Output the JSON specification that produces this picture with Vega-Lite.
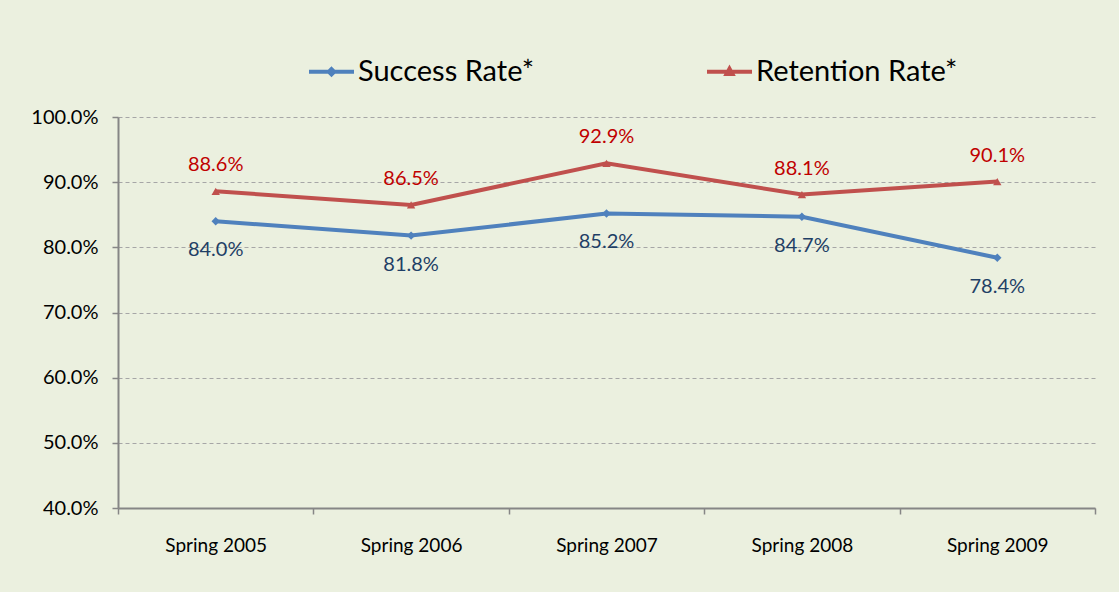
{
  "$schema": "https://vega.github.io/schema/vega-lite/v6.json",
  "width": 977,
  "height": 391,
  "autosize": {"type": "none"},
  "padding": {"left": 118, "top": 117, "right": 24, "bottom": 84},
  "background": "#EBF0DF",
  "config": {
    "view": {"stroke": null},
    "font": "Lato",
    "axis": {"labelFont": "Lato", "labelColor": "#000000", "domainColor": "#868686", "tickColor": "#868686", "domainWidth": 2}
  },
  "data": {
    "values": [
      {"term": "Spring 2005", "series": "Success Rate*", "value": 0.840},
      {"term": "Spring 2006", "series": "Success Rate*", "value": 0.818},
      {"term": "Spring 2007", "series": "Success Rate*", "value": 0.852},
      {"term": "Spring 2008", "series": "Success Rate*", "value": 0.847},
      {"term": "Spring 2009", "series": "Success Rate*", "value": 0.784},
      {"term": "Spring 2005", "series": "Retention Rate*", "value": 0.886},
      {"term": "Spring 2006", "series": "Retention Rate*", "value": 0.865},
      {"term": "Spring 2007", "series": "Retention Rate*", "value": 0.929},
      {"term": "Spring 2008", "series": "Retention Rate*", "value": 0.881},
      {"term": "Spring 2009", "series": "Retention Rate*", "value": 0.901}
    ]
  },
  "encoding": {
    "x": {
      "field": "term", "type": "nominal", "sort": null,
      "scale": {"paddingInner": 0, "paddingOuter": 0},
      "axis": {"title": null, "labelAngle": 0, "labelFontSize": 19, "labelPadding": 22, "tickBand": "extent", "tickSize": 6, "grid": false, "tickWidth": 1.5}
    },
    "y": {
      "field": "value", "type": "quantitative",
      "scale": {"domain": [0.4, 1.0]},
      "axis": {"title": null, "format": ".1%", "values": [0.4, 0.5, 0.6, 0.7, 0.8, 0.9, 1.0], "labelFontSize": 20, "labelPadding": 14, "tickSize": 6, "tickWidth": 1.5, "grid": true, "gridColor": "#A6A6A6", "gridDash": [4, 3], "gridWidth": 1}
    }
  },
  "layer": [
    {
      "mark": {"type": "line", "strokeWidth": 4},
      "encoding": {
        "color": {
          "field": "series", "type": "nominal",
          "scale": {"domain": ["Success Rate*", "Retention Rate*"], "range": ["#4F81BD", "#C0504D"]},
          "legend": {
            "title": null, "orient": "none", "direction": "horizontal",
            "legendX": 189, "legendY": -70,
            "labelFont": "Lato", "labelFontSize": 29, "labelColor": "#000000", "labelLimit": 400,
            "symbolSize": 2025, "symbolStrokeWidth": 4, "labelOffset": 2, "columnPadding": 164,
            "symbolType": "M-1,0L1,0M0,-0.12L0.12,0L0,0.12L-0.12,0Z",
            "encode": {
              "symbols": {
                "update": {
                  "shape": {"signal": "datum.value === 'Success Rate*' ? 'M-1,0L1,0M0,-0.12L0.12,0L0,0.12L-0.12,0Z' : 'M-1,0L1,0M0,-0.14L0.13,0.1L-0.13,0.1Z'"},
                  "fill": {"signal": "datum.value === 'Success Rate*' ? '#4F81BD' : '#C0504D'"}
                }
              }
            }
          }
        }
      }
    },
    {
      "transform": [{"filter": "datum.series === 'Success Rate*'"}],
      "mark": {"type": "point", "filled": true, "size": 70, "opacity": 1, "shape": "diamond", "color": "#4F81BD"}
    },
    {
      "transform": [{"filter": "datum.series === 'Retention Rate*'"}],
      "mark": {"type": "point", "filled": true, "size": 70, "opacity": 1, "shape": "triangle-up", "color": "#C0504D"}
    },
    {
      "transform": [{"filter": "datum.series === 'Retention Rate*'"}],
      "mark": {"type": "text", "dy": -26, "fontSize": 20, "color": "#C00000", "font": "Lato"},
      "encoding": {"text": {"field": "value", "type": "quantitative", "format": ".1%"}}
    },
    {
      "transform": [{"filter": "datum.series === 'Success Rate*'"}],
      "mark": {"type": "text", "dy": 29, "fontSize": 20, "color": "#1F3F66", "font": "Lato"},
      "encoding": {"text": {"field": "value", "type": "quantitative", "format": ".1%"}}
    }
  ]
}
